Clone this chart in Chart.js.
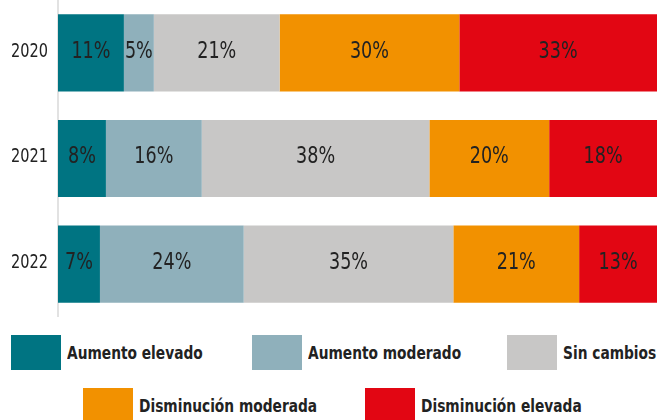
<!DOCTYPE html>
<html>
<head>
<meta charset="utf-8">
<script src="https://cdn.jsdelivr.net/npm/chart.js@4.4.1/dist/chart.umd.min.js"></script>
<style>
  html, body { margin: 0; padding: 0; background: #fff; }
  body { width: 657px; height: 420px; position: relative; overflow: hidden;
         font-family: 'DejaVu Sans Condensed', 'DejaVu Sans', sans-serif; }
  #wrap { position: absolute; left: 0; top: 0; width: 657px; height: 317px; }
  .ley { position: absolute; display: flex; align-items: center; font-weight: bold;
         font-size: 18px; color: #222; white-space: nowrap; }
  .ley .box { display: inline-block; width: 50px; height: 35px; margin-right: 6px; }
  .ley .txt { display: inline-block; transform: scaleX(0.85); transform-origin: left center; }
</style>
</head>
<body>
<div id="wrap"><canvas id="grafico"></canvas></div>
<div id="leyenda"></div>
<script>
// --- DATOS ---
const anios = ['2020', '2021', '2022'];
const categorias = ['Aumento elevado', 'Aumento moderado', 'Sin cambios', 'Disminución moderada', 'Disminución elevada'];
const aumentoElevado = [11, 8, 7];
const aumentoModerado = [5, 16, 24];
const sinCambios = [21, 38, 35];
const disminucionModerada = [30, 20, 21];
const disminucionElevada = [33, 18, 13];

const series = [aumentoElevado, aumentoModerado, sinCambios, disminucionModerada, disminucionElevada];
const colores = ['#007482', '#8fb0bb', '#c8c7c6', '#f29100', '#e20613'];

const FUENTE = "'DejaVu Sans Condensed', 'DejaVu Sans', sans-serif";

// texto estrecho (la fuente original es condensada)
function textoEstrecho(ctx, txt, x, y, escala) {
    ctx.save();
    ctx.translate(x, y);
    ctx.scale(escala, 1);
    ctx.fillText(txt, 0, 0);
    ctx.restore();
}

// etiquetas de porcentaje y años
const pluginEtiquetas = {
    id: 'etiquetas',
    afterDatasetsDraw(chart) {
        const ctx = chart.ctx;
        ctx.save();
        ctx.fillStyle = '#222';
        ctx.textBaseline = 'middle';

        ctx.font = '23px ' + FUENTE;
        ctx.textAlign = 'center';
        chart.data.datasets.forEach((ds, i) => {
            chart.getDatasetMeta(i).data.forEach((bar, j) => {
                const x = (bar.x + bar.base) / 2;
                textoEstrecho(ctx, ds.data[j] + '%', x, bar.y - 1, 0.85);
            });
        });

        const ejeY = chart.scales.y;
        ctx.font = '19px ' + FUENTE;
        ctx.textAlign = 'right';
        chart.data.labels.forEach((lab, j) => {
            textoEstrecho(ctx, lab, 48, ejeY.getPixelForTick(j) - 1, 0.85);
        });
        ctx.restore();
    }
};

new Chart(document.getElementById('grafico'), {
    type: 'bar',
    data: {
        labels: anios,
        datasets: categorias.map((c, i) => ({
            label: c,
            data: series[i],
            backgroundColor: colores[i],
            borderWidth: 0,
            barPercentage: 0.73,
            categoryPercentage: 1
        }))
    },
    options: {
        indexAxis: 'y',
        responsive: true,
        maintainAspectRatio: false,
        animation: false,
        layout: { padding: 0 },
        plugins: { legend: { display: false }, tooltip: { enabled: false } },
        scales: {
            x: { stacked: true, min: 0, max: 100, display: false },
            y: {
                stacked: true,
                grid: { display: false },
                border: { display: true, color: '#e2e2e2', width: 2 },
                ticks: { display: false },
                afterFit(scale) {
                    scale.width = 58;
                    scale.paddingTop = 0;
                    scale.paddingBottom = 0;
                }
            }
        }
    },
    plugins: [pluginEtiquetas]
});

// --- LEYENDA ---
const posLeyenda = [[11, 335], [252, 335], [507, 335], [83, 388], [365, 388]];
const leyenda = document.getElementById('leyenda');
categorias.forEach((c, i) => {
    const d = document.createElement('div');
    d.className = 'ley';
    d.style.left = posLeyenda[i][0] + 'px';
    d.style.top = posLeyenda[i][1] + 'px';
    d.innerHTML = '<span class="box" style="background:' + colores[i] + '"></span><span class="txt">' + c + '</span>';
    leyenda.appendChild(d);
});
</script>
</body>
</html>
